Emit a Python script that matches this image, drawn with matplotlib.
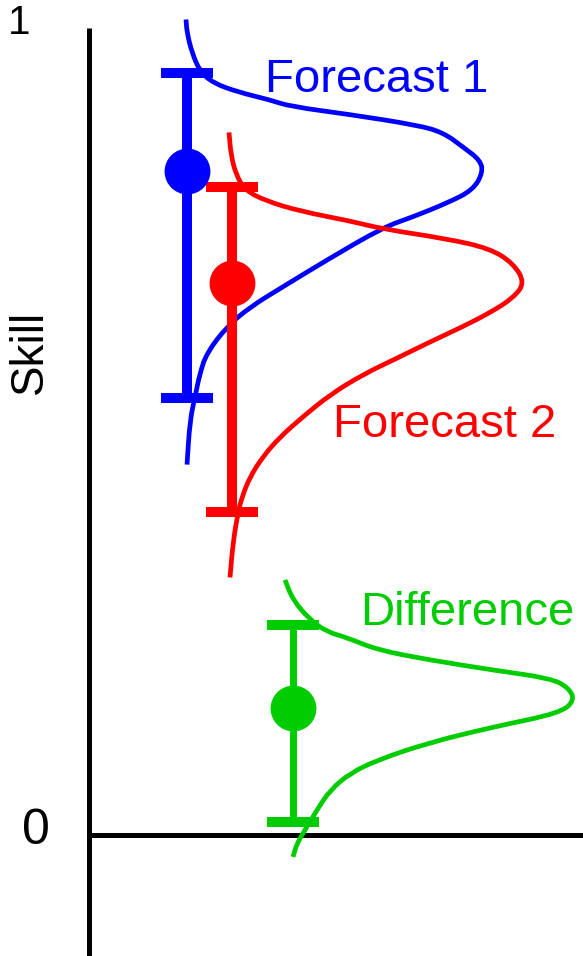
#!/usr/bin/python
import numpy as np
import matplotlib
matplotlib.use('Agg')
import matplotlib.pyplot as plt
from matplotlib.path import Path
from matplotlib.patches import PathPatch

plt.rcParams['font.family'] = ['Liberation Sans', 'DejaVu Sans']

# estimates: position, mean, lower, upper (skill units)
names = ['Forecast 1', 'Forecast 2', 'Difference']
colours = ['#0000ff', '#ff0000', '#00cc00']
bar_x = [98, 143, 204]
means = [0.818, 0.679, 0.156]
lows = [0.538, 0.398, 0.016]
highs = [0.938, 0.798, 0.259]

# sampling distributions drawn beside each estimate (x = density, y = skill)
f1_dens = [97, 98, 103, 111, 124, 148, 181, 201, 261, 328, 354, 374, 391, 394,
           384, 358, 324, 294, 238, 194, 161, 138, 118, 111, 106, 101, 98]
f1_skill = [1.004, 0.988, 0.963, 0.940, 0.926, 0.915, 0.905, 0.897, 0.887,
            0.874, 0.865, 0.847, 0.831, 0.816, 0.794, 0.778, 0.761, 0.748,
            0.708, 0.675, 0.650, 0.626, 0.594, 0.569, 0.539, 0.511, 0.456]

f2_dens = [140, 142, 147, 156, 176, 211, 261, 294, 358, 401, 424, 436, 424,
           401, 374, 341, 308, 274, 241, 214, 191, 174, 161, 153, 149, 144, 141]
f2_skill = [0.865, 0.837, 0.813, 0.794, 0.781, 0.768, 0.756, 0.746, 0.734,
            0.722, 0.704, 0.680, 0.661, 0.643, 0.626, 0.607, 0.587, 0.567,
            0.542, 0.515, 0.490, 0.466, 0.441, 0.416, 0.397, 0.360, 0.317]

diff_dens = [196, 204, 221, 238, 258, 288, 338, 404, 461, 479, 486, 471, 404,
             338, 288, 261, 241, 228, 218, 208, 204]
diff_skill = [0.314, 0.289, 0.265, 0.250, 0.243, 0.228, 0.216, 0.203, 0.193,
              0.182, 0.166, 0.150, 0.133, 0.113, 0.092, 0.076, 0.055, 0.031,
              0.010, -0.010, -0.027]

dens = [f1_dens, f2_dens, diff_dens]
skills = [f1_skill, f2_skill, diff_skill]

# label anchors (left, baseline)
label_x = [176, 244, 271]
label_y = [0.915, 0.490, 0.259]

bar_lw = [7.2, 7.2, 5.0]


def smooth_path(xs, ys):
    # quadratic bezier through the midpoints, read points act as controls
    pts = np.column_stack([xs, ys])
    mids = (pts[:-1] + pts[1:]) / 2.0
    verts = [pts[0], mids[0]]
    codes = [Path.MOVETO, Path.LINETO]
    for k in range(1, len(pts) - 1):
        verts += [pts[k], mids[k]]
        codes += [Path.CURVE3, Path.CURVE3]
    verts.append(pts[-1])
    codes.append(Path.LINETO)
    return Path(verts, codes)


###############################
fig = plt.figure(figsize=(5.83, 9.56), dpi=100)
ax = fig.add_axes([0, 0, 1, 1])
ax.set_xlim(-89, 494)
ax.set_ylim(-0.149, 1.028)
ax.axis('off')

# axes drawn by hand
ax.plot([0, 0], [-0.149, 0.994], color='k', lw=3.6, solid_capstyle='butt')
ax.plot([0, 494], [0, 0], color='k', lw=3.6, solid_capstyle='butt')

for i in range(3):
    ax.add_patch(PathPatch(smooth_path(dens[i], skills[i]), fill=False,
                           edgecolor=colours[i], lw=3.4, capstyle='butt',
                           joinstyle='round', zorder=2))
    ax.errorbar([bar_x[i]], [means[i]],
                yerr=[[means[i] - lows[i]], [highs[i] - means[i]]],
                fmt='o', color=colours[i], ms=32, elinewidth=bar_lw[i],
                capsize=19, capthick=7.2, zorder=3)
    ax.text(label_x[i], label_y[i], names[i], color=colours[i], fontsize=34,
            ha='left', va='baseline')

ax.text(-70, 1.0, '1', fontsize=29, ha='center', va='center')
ax.text(-53, 0.005, '0', fontsize=36, ha='center', va='center')
ax.text(-59, 0.595, 'Skill', fontsize=33, rotation=90, ha='center', va='center')

plt.savefig('out.png', dpi=100)
